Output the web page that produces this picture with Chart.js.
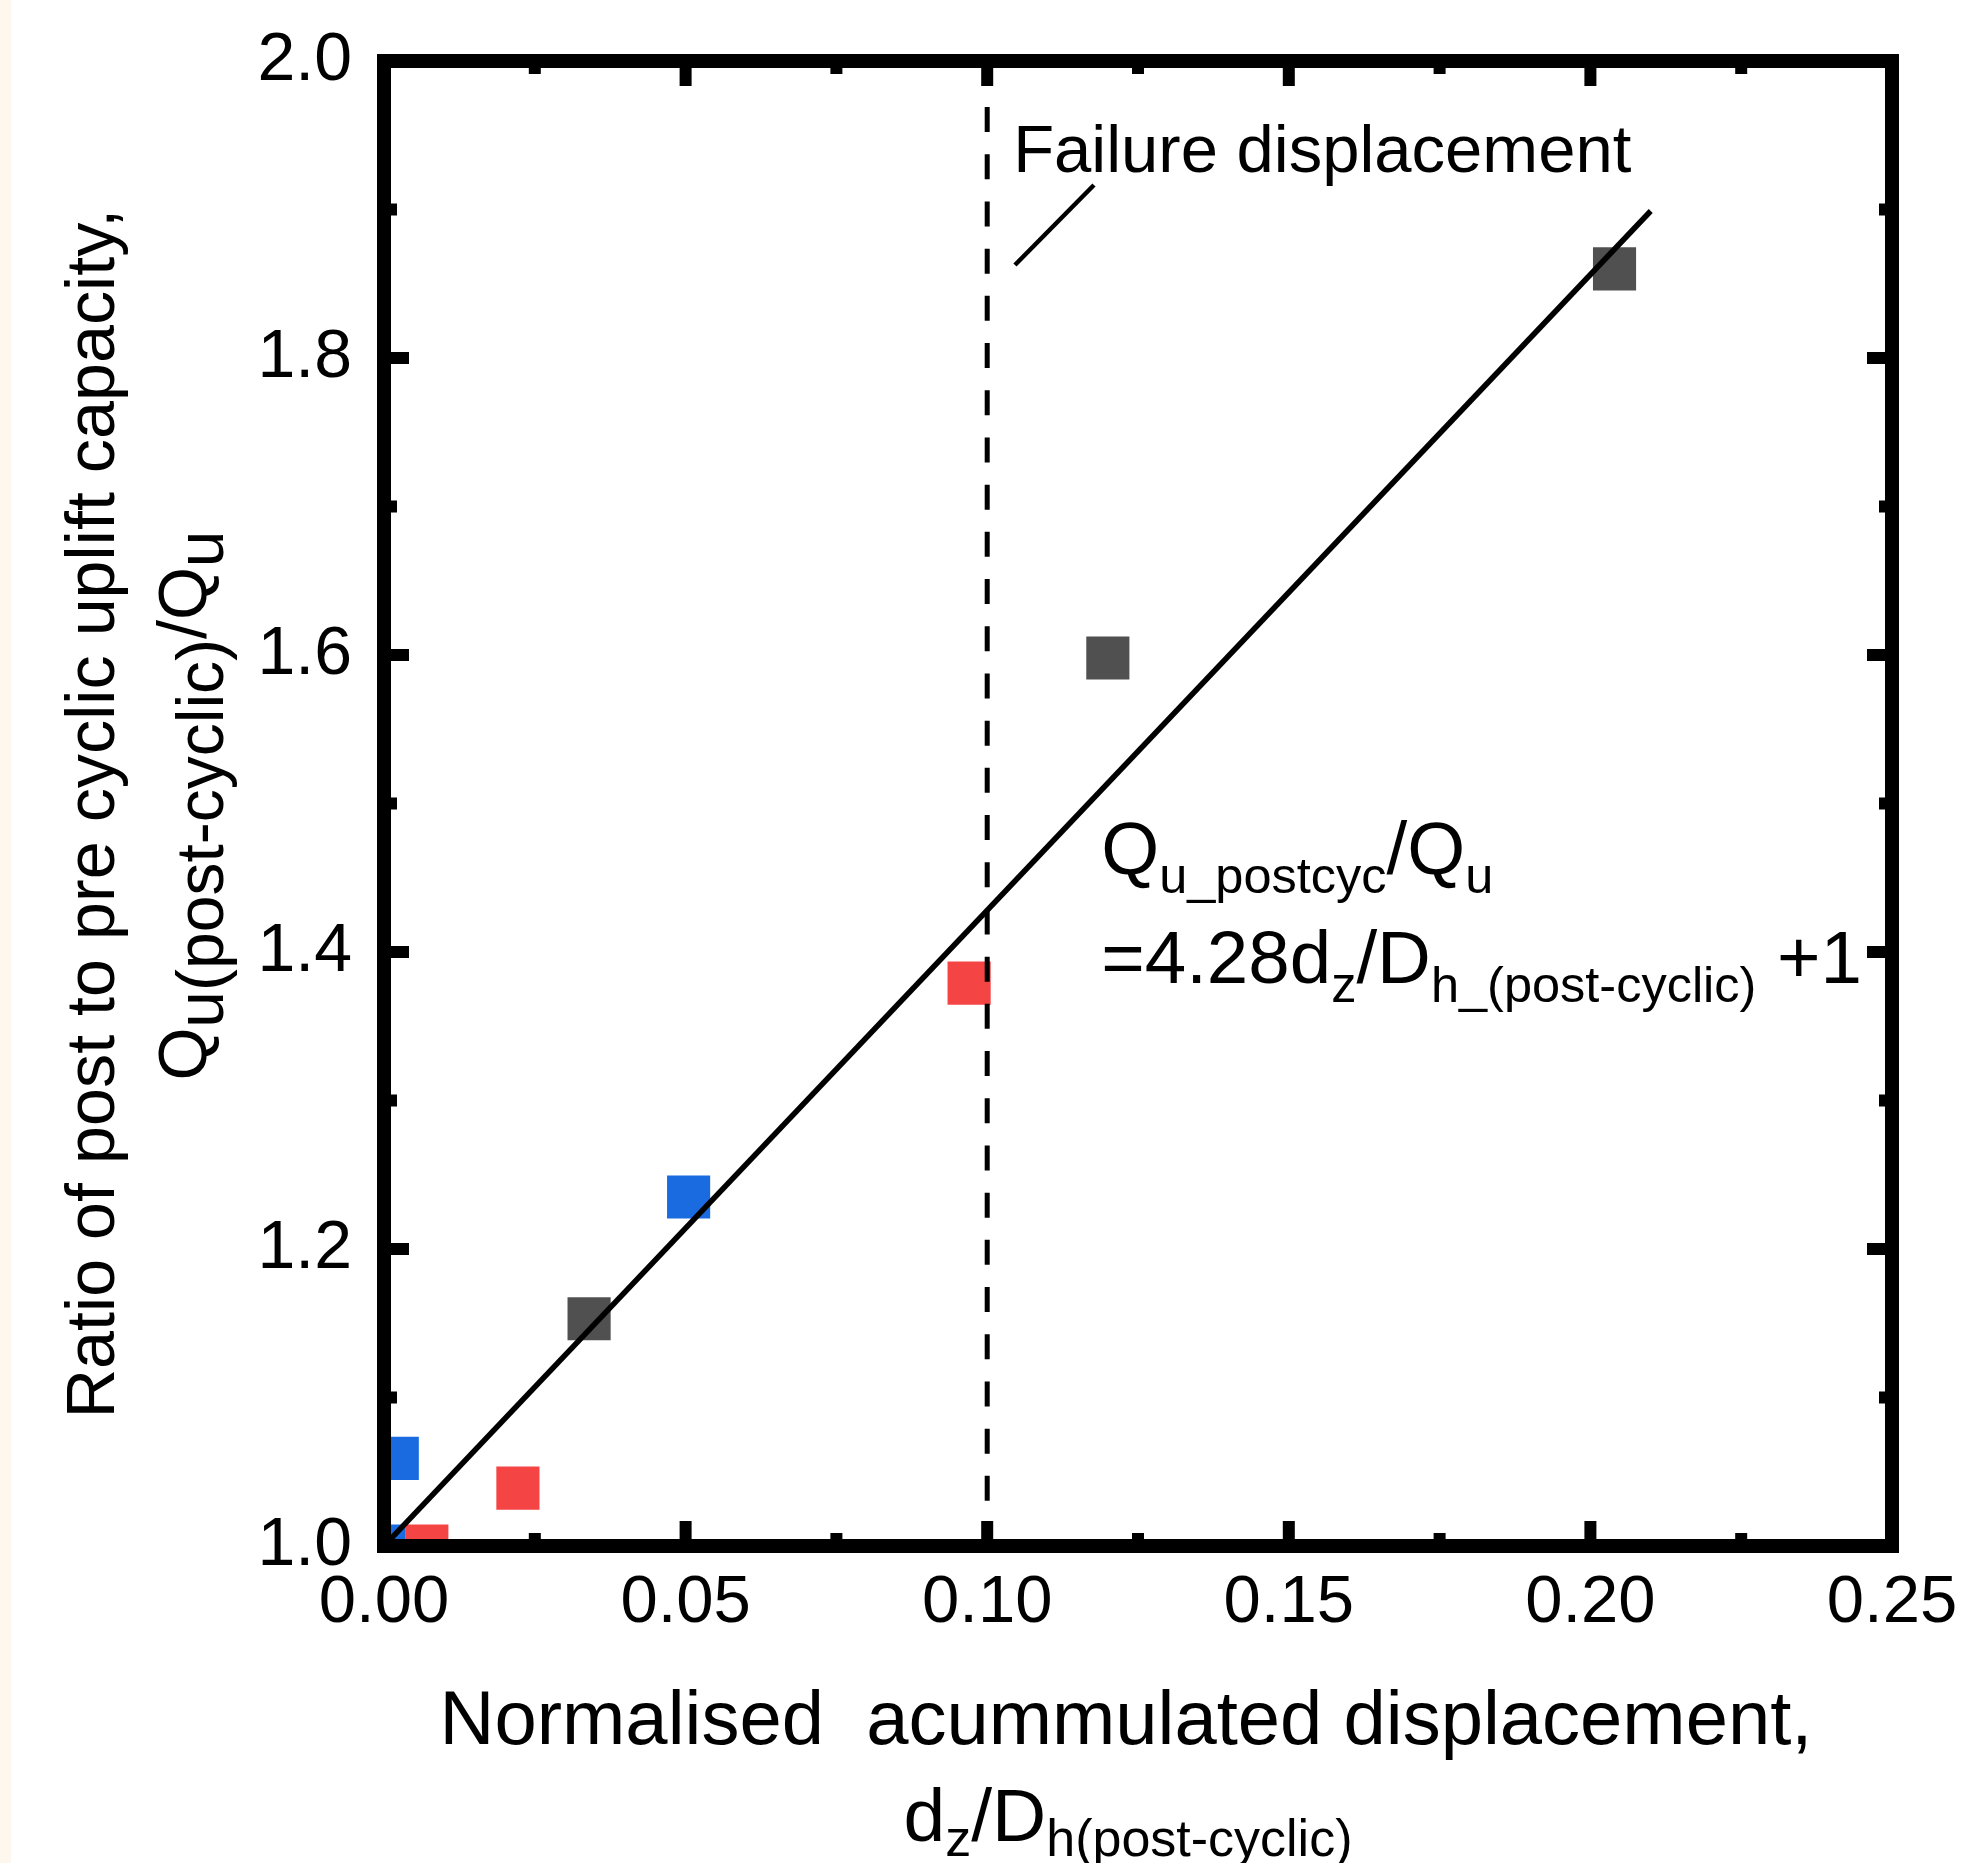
<!DOCTYPE html>
<html>
<head>
<meta charset="utf-8">
<script src="https://cdn.jsdelivr.net/npm/chart.js@4.4.1/dist/chart.umd.min.js"></script>
<style>
  html, body { margin: 0; padding: 0; background: #ffffff; }
  #wrap { position: relative; width: 1970px; height: 1863px; }
  #strip { position: absolute; left: 0; top: 0; width: 11px; height: 1863px; background: #fef7ee; }
  #chart { position: absolute; left: 0; top: 0; }
</style>
</head>
<body>
<div id="wrap">
  <div id="strip"></div>
  <canvas id="chart" width="1970" height="1863"></canvas>
</div>
<script>
const FONT = '"Liberation Sans", Arial, Helvetica, sans-serif';

// test points, grouped by marker colour (dz/Dh, Qu_post/Qu)
const gray_x = [0.034, 0.120, 0.204];
const gray_y = [1.153, 1.598, 1.860];
const blue_x = [0.000, 0.0022, 0.0505];
const blue_y = [1.000, 1.059, 1.235];
const red_x = [0.0071, 0.0222, 0.0970];
const red_y = [1.000, 1.039, 1.379];

// fitted line  Qu_postcyc/Qu = 4.28 dz/Dh + 1
const fit_x = [0.0, 0.21];
const fit_y = [1.0, 1.899];

// failure displacement line and the pointer under its label
const fail_x = [0.10, 0.10];
const fail_y = [1.969, 1.0];
const pointer_x = [0.1046, 0.1177];
const pointer_y = [1.8626, 1.9165];

// axis ticks
const x_ticks = [0.00, 0.05, 0.10, 0.15, 0.20, 0.25];
const y_ticks = [1.0, 1.2, 1.4, 1.6, 1.8, 2.0];

function to_points(xs, ys){
    return xs.map((v, i) => ({x: v, y: ys[i]}));
}

function marker_set(xs, ys, color){
    return {
        data: to_points(xs, ys),
        backgroundColor: color,
        borderWidth: 0,
        pointStyle: 'rect',
        pointRadius: 30.5,
        pointHoverRadius: 30.5,
        clip: 0
    };
}

function line_set(xs, ys, width, dash){
    return {
        data: to_points(xs, ys),
        showLine: true,
        borderColor: '#000000',
        borderWidth: width,
        borderDash: dash,
        pointRadius: 0,
        pointHoverRadius: 0,
        fill: false,
        clip: 0
    };
}

//draws a run of text pieces [text, size, shift] one after the other
function draw_rich(ctx, x, y, parts, align){
    let total = 0;
    parts.forEach(p => {
        ctx.font = p[1] + 'px ' + FONT;
        total += ctx.measureText(p[0]).width;
    });
    let cx = align == 'center' ? x - total / 2 : x;
    parts.forEach(p => {
        ctx.font = p[1] + 'px ' + FONT;
        ctx.fillText(p[0], cx, y + p[2]);
        cx += ctx.measureText(p[0]).width;
    });
}

//no extra room for the end labels, the layout padding handles it
function no_scale_padding(s){
    s.paddingTop = 0;
    s.paddingBottom = 0;
    s.paddingLeft = 0;
    s.paddingRight = 0;
}

//frame with inward ticks on the four sides
const frame_plugin = {
    id: 'frame',
    afterDraw(chart){
        const ctx = chart.ctx;
        const a = chart.chartArea;
        const xs = chart.scales.x;
        const ys = chart.scales.y;
        const MAJOR = 25, MINOR = 13, TW = 12;
        ctx.save();
        ctx.fillStyle = '#000000';
        x_ticks.forEach((v, i) => {
            let px = xs.getPixelForValue(v);
            ctx.fillRect(px - TW / 2, a.bottom - MAJOR, TW, MAJOR);
            ctx.fillRect(px - TW / 2, a.top, TW, MAJOR);
            if (i < x_ticks.length - 1){
                let mx = xs.getPixelForValue((v + x_ticks[i + 1]) / 2);
                ctx.fillRect(mx - TW / 2, a.bottom - MINOR, TW, MINOR);
                ctx.fillRect(mx - TW / 2, a.top, TW, MINOR);
            }
        });
        y_ticks.forEach((v, i) => {
            let py = ys.getPixelForValue(v);
            ctx.fillRect(a.left, py - TW / 2, MAJOR, TW);
            ctx.fillRect(a.right - MAJOR, py - TW / 2, MAJOR, TW);
            if (i < y_ticks.length - 1){
                let my = ys.getPixelForValue((v + y_ticks[i + 1]) / 2);
                ctx.fillRect(a.left, my - TW / 2, MINOR, TW);
                ctx.fillRect(a.right - MINOR, my - TW / 2, MINOR, TW);
            }
        });
        ctx.strokeStyle = '#000000';
        ctx.lineWidth = 14;
        ctx.lineJoin = 'miter';
        ctx.strokeRect(a.left, a.top, a.right - a.left, a.bottom - a.top);
        ctx.restore();
    }
};

//axis titles and the notes inside the plot
const text_plugin = {
    id: 'texts',
    afterDraw(chart){
        const ctx = chart.ctx;
        const a = chart.chartArea;
        const xs = chart.scales.x;
        const ys = chart.scales.y;
        const mid_x = (a.left + a.right) / 2;
        const mid_y = (a.top + a.bottom) / 2;
        ctx.save();
        ctx.fillStyle = '#000000';
        ctx.textBaseline = 'alphabetic';
        ctx.textAlign = 'left';

        // x title
        draw_rich(ctx, mid_x - 12, 1744, [['Normalised  acummulated displacement,', 76, 0]], 'center');
        draw_rich(ctx, mid_x - 10, 1841, [['d', 75, 0], ['z', 52, 15], ['/D', 75, 0], ['h(post-cyclic)', 52, 15]], 'center');

        // y title
        ctx.save();
        ctx.translate(114, mid_y + 10);
        ctx.rotate(-Math.PI / 2);
        draw_rich(ctx, 0, 0, [['Ratio of post to pre cyclic uplift capacity,', 68.3, 0]], 'center');
        ctx.restore();
        ctx.save();
        ctx.translate(206, mid_y + 2);
        ctx.rotate(-Math.PI / 2);
        draw_rich(ctx, 0, 0, [['Q', 68, 0], ['u(post-cyclic)', 66, 17], ['/Q', 68, 0], ['u', 66, 17]], 'center');
        ctx.restore();

        // notes
        draw_rich(ctx, xs.getPixelForValue(0.1043), ys.getPixelForValue(1.925), [['Failure displacement', 67, 0]], 'left');
        let ex = xs.getPixelForValue(0.1189);
        draw_rich(ctx, ex, ys.getPixelForValue(1.4525), [['Q', 74.5, 0], ['u_postcyc', 50.5, 19], ['/Q', 74.5, 0], ['u', 50.5, 19]], 'left');
        draw_rich(ctx, ex, ys.getPixelForValue(1.379), [['=4.28d', 74.5, 0], ['z', 50.5, 19], ['/D', 74.5, 0], ['h_(post-cyclic)', 50.5, 19], [' +1', 74.5, 0]], 'left');
        ctx.restore();
    }
};

new Chart(document.getElementById('chart'), {
    type: 'scatter',
    data: {
        datasets: [
            line_set(fit_x, fit_y, 5.5, []),
            line_set(pointer_x, pointer_y, 4.5, []),
            line_set(fail_x, fail_y, 5, [25, 22.2]),
            marker_set(red_x, red_y, '#f54444'),
            marker_set(blue_x, blue_y, '#1a6be0'),
            marker_set(gray_x, gray_y, '#505050')
        ]
    },
    options: {
        responsive: false,
        devicePixelRatio: 1,
        animation: false,
        events: [],
        layout: { padding: { left: 234, right: 78, top: 61, bottom: 207 } },
        plugins: { legend: { display: false }, tooltip: { enabled: false } },
        scales: {
            x: {
                type: 'linear',
                min: 0,
                max: 0.25,
                afterBuildTicks: s => { s.ticks = x_ticks.map(v => ({value: v})); },
                afterFit: s => { s.height = 110; no_scale_padding(s); },
                grid: { display: false, drawTicks: false },
                border: { display: false },
                ticks: {
                    color: '#000000',
                    font: { family: FONT, size: 67 },
                    padding: 17,
                    maxRotation: 0,
                    autoSkip: false,
                    callback: v => Number(v).toFixed(2)
                }
            },
            y: {
                type: 'linear',
                min: 1.0,
                max: 2.0,
                afterBuildTicks: s => { s.ticks = y_ticks.map(v => ({value: v})); },
                afterFit: s => { s.width = 150; no_scale_padding(s); },
                grid: { display: false, drawTicks: false },
                border: { display: false },
                ticks: {
                    color: '#000000',
                    font: { family: FONT, size: 68 },
                    padding: 32,
                    autoSkip: false,
                    callback: v => Number(v).toFixed(1)
                }
            }
        }
    },
    plugins: [frame_plugin, text_plugin]
});
</script>
</body>
</html>
